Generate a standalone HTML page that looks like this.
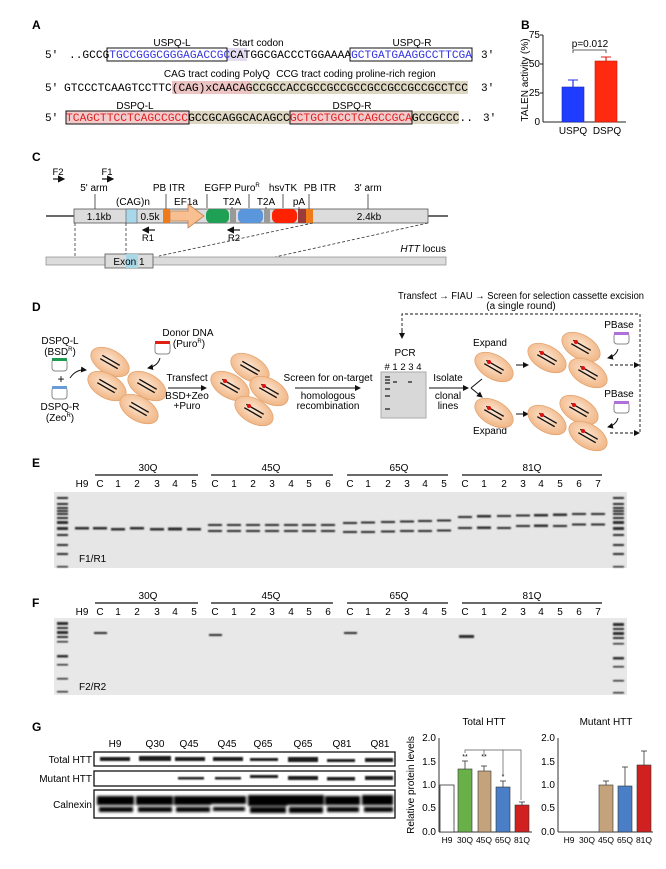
<!DOCTYPE html>
<html><head><meta charset="utf-8"><style>
html,body{margin:0;padding:0;background:#fff;}
svg{display:block}
text{font-family:"Liberation Sans",Arial,sans-serif;}
.seq{font-family:"Liberation Mono",monospace;font-size:11px;}
.b{font-weight:bold;font-size:12px}
.s{font-size:10px}
.l{font-size:9.5px}
</style></head><body>
<svg width="666" height="869" viewBox="0 0 666 869" xmlns="http://www.w3.org/2000/svg">
<defs>
<radialGradient id="cg" cx="45%" cy="45%" r="60%"><stop offset="0" stop-color="#fde6d2"/><stop offset="1" stop-color="#f0b381"/></radialGradient>
<g id="cell"><ellipse rx="21" ry="12" transform="rotate(30)" fill="url(#cg)" stroke="#e2a470" stroke-width=".8"/><line x1="-7.7" y1="-6.7" x2="9.7" y2="3.3" stroke="#111" stroke-width="1.4"/><line x1="-9.7" y1="-3.3" x2="7.7" y2="6.7" stroke="#111" stroke-width="1.4"/></g>
<g id="cellr"><use href="#cell"/><circle cx="-5" cy="-5" r="2" fill="#e01010"/></g>
<marker id="ah" markerWidth="6" markerHeight="6" refX="5" refY="3" orient="auto"><path d="M0,0 L6,3 L0,6z" fill="#111"/></marker>
<filter id="bl"><feGaussianBlur stdDeviation="0.7"/></filter>
<filter id="bl2"><feGaussianBlur stdDeviation="1.2"/></filter>
</defs>

<!-- ============ A ============ -->
<text x="32" y="29" class="b">A</text>
<text x="172" y="46" class="s" text-anchor="middle">USPQ-L</text>
<text x="258" y="46" class="s" text-anchor="middle">Start codon</text>
<text x="412" y="46" class="s" text-anchor="middle">USPQ-R</text>
<rect x="227" y="48" width="20" height="13" fill="#e4dcf0"/>
<rect x="107" y="48" width="120" height="13" fill="none" stroke="#111" stroke-width="1"/>
<rect x="350" y="48" width="122" height="13" fill="none" stroke="#111" stroke-width="1"/>
<text x="45" y="58" class="seq">5'</text>
<text x="69" y="58" class="seq" textLength="403" lengthAdjust="spacingAndGlyphs">..GCCG<tspan fill="#3535e0">TGCCGGGCGGGAGACCGC</tspan>CATGGCGACCCTGGAAAA<tspan fill="#3535e0">GCTGATGAAGGCCTTCGA</tspan></text>
<text x="481" y="58" class="seq">3'</text>

<text x="217" y="77" class="s" text-anchor="middle">CAG tract coding PolyQ</text>
<text x="356" y="77" class="s" text-anchor="middle">CCG tract coding proline-rich region</text>
<rect x="172" y="81" width="80" height="13" fill="#ecc4c4"/>
<rect x="252" y="81" width="216" height="13" fill="#ddd6c2"/>
<text x="45" y="91" class="seq">5'</text>
<text x="64" y="91" class="seq" textLength="404" lengthAdjust="spacingAndGlyphs">GTCCCTCAAGTCCTTC(CAG)xCAACAGCCGCCACCGCCGCCGCCGCCGCCGCCGCCTCC</text>
<text x="481" y="91" class="seq">3'</text>

<text x="135" y="109" class="s" text-anchor="middle">DSPQ-L</text>
<text x="352" y="109" class="s" text-anchor="middle">DSPQ-R</text>
<rect x="189" y="111" width="270" height="13" fill="#ddd6c2"/>
<rect x="66" y="111" width="123" height="13" fill="#f2cccc" stroke="#111" stroke-width="1"/>
<rect x="290" y="111" width="122" height="13" fill="#f2cccc" stroke="#111" stroke-width="1"/>
<text x="45" y="121" class="seq">5'</text>
<text x="66" y="121" class="seq" textLength="407" lengthAdjust="spacingAndGlyphs"><tspan fill="#e02020">TCAGCTTCCTCAGCCGCC</tspan>GCCGCAGGCACAGCC<tspan fill="#e02020">GCTGCTGCCTCAGCCGCA</tspan>GCCGCCC..</text>
<text x="483" y="121" class="seq">3'</text>

<!-- ============ B ============ -->
<text x="521" y="29" class="b">B</text>
<text transform="translate(528,80) rotate(-90)" class="s" text-anchor="middle">TALEN activity (%)</text>
<line x1="543" y1="35" x2="543" y2="122" stroke="#222"/>
<line x1="543" y1="122" x2="626" y2="122" stroke="#222"/>
<g class="s" text-anchor="end">
<text x="540" y="38">75</text><text x="540" y="67">50</text><text x="540" y="96">25</text><text x="540" y="125">0</text></g>
<g stroke="#222"><line x1="540" y1="35" x2="543" y2="35"/><line x1="540" y1="64" x2="543" y2="64"/><line x1="540" y1="93" x2="543" y2="93"/></g>
<line x1="573" y1="80" x2="573" y2="87" stroke="#2030f0" stroke-width="1.2"/><line x1="568" y1="80" x2="578" y2="80" stroke="#2030f0"/>
<rect x="562" y="87" width="22" height="35" fill="#1f3cff" stroke="#1a2ab0" stroke-width=".6"/>
<line x1="606" y1="57" x2="606" y2="61" stroke="#e02010" stroke-width="1.2"/><line x1="601" y1="57" x2="611" y2="57" stroke="#e02010"/>
<rect x="595" y="61" width="22" height="61" fill="#ff2a10" stroke="#c01a00" stroke-width=".6"/>
<text x="590" y="47" class="s" text-anchor="middle">p=0.012</text>
<path d="M573,53 V50 H606 V53" fill="none" stroke="#333" stroke-width=".8"/>
<text x="573" y="134" class="s" text-anchor="middle">USPQ</text>
<text x="607" y="134" class="s" text-anchor="middle">DSPQ</text>

<!-- ============ C ============ -->
<text x="32" y="161" class="b">C</text>
<text x="58" y="175" class="l" text-anchor="middle">F2</text>
<line x1="53" y1="179" x2="64" y2="179" stroke="#111" stroke-width="1.2" marker-end="url(#ah)"/>
<text x="107" y="175" class="l" text-anchor="middle">F1</text>
<line x1="102" y1="179" x2="113" y2="179" stroke="#111" stroke-width="1.2" marker-end="url(#ah)"/>
<g class="s" text-anchor="middle">
<text x="94" y="191">5' arm</text><text x="169" y="191">PB ITR</text><text x="218" y="191">EGFP</text>
<text x="247" y="191">Puro<tspan font-size="6" dy="-4">R</tspan></text>
<text x="283" y="191">hsvTK</text><text x="320" y="191">PB ITR</text><text x="368" y="191">3' arm</text>
<text x="133" y="205">(CAG)n</text><text x="186" y="205">EF1a</text><text x="232" y="205">T2A</text><text x="266" y="205">T2A</text><text x="299" y="205">pA</text>
</g>
<g stroke="#333" stroke-width=".8">
<line x1="95" y1="194" x2="95" y2="210"/><line x1="166" y1="194" x2="166" y2="210"/><line x1="207" y1="194" x2="207" y2="208"/>
<line x1="249" y1="194" x2="249" y2="208"/><line x1="283" y1="194" x2="283" y2="208"/><line x1="309" y1="194" x2="309" y2="210"/><line x1="368" y1="194" x2="368" y2="210"/>
<line x1="232" y1="207" x2="232" y2="210"/><line x1="266" y1="207" x2="266" y2="210"/><line x1="299" y1="207" x2="299" y2="210"/></g>
<line x1="46" y1="216" x2="448" y2="216" stroke="#111" stroke-width="1.2"/>
<rect x="74" y="209" width="354" height="14" fill="#dcdcdc" stroke="#555" stroke-width=".8"/>
<rect x="126" y="209" width="11" height="14" fill="#a8d8e8" stroke="#555" stroke-width=".6"/>
<rect x="163" y="209" width="7" height="14" fill="#f07a18"/>
<polygon points="170,211 188,211 188,204 204,216 188,228 188,221 170,221" fill="#f8c090" stroke="#c08050" stroke-width=".8"/>
<rect x="206" y="209" width="23" height="14" rx="5" fill="#1fa055"/>
<rect x="230" y="209" width="6" height="14" fill="#999"/>
<rect x="238" y="209" width="25" height="14" rx="5" fill="#5a96dc"/>
<rect x="264" y="209" width="6" height="14" fill="#999"/>
<rect x="272" y="209" width="25" height="14" rx="5" fill="#ff2200"/>
<rect x="298" y="209" width="8" height="14" fill="#9a3c3c"/>
<rect x="306" y="209" width="7" height="14" fill="#f07a18"/>
<g class="s" text-anchor="middle"><text x="99" y="220">1.1kb</text><text x="150" y="220">0.5k</text><text x="369" y="220">2.4kb</text></g>
<line x1="155" y1="230" x2="143" y2="230" stroke="#111" stroke-width="1.2" marker-end="url(#ah)"/>
<text x="148" y="241" class="l" text-anchor="middle">R1</text>
<line x1="240" y1="230" x2="228" y2="230" stroke="#111" stroke-width="1.2" marker-end="url(#ah)"/>
<text x="234" y="241" class="l" text-anchor="middle">R2</text>
<g stroke="#333" stroke-width=".8" stroke-dasharray="3,2" fill="none">
<line x1="75" y1="223" x2="75" y2="257"/><line x1="126" y1="223" x2="126" y2="256"/>
<line x1="313" y1="223" x2="159" y2="256"/><line x1="428" y1="223" x2="275" y2="257"/></g>
<rect x="46" y="257" width="400" height="8" fill="#dcdcdc" stroke="#888" stroke-width=".7"/>
<rect x="105" y="254" width="48" height="14" fill="#dcdcdc" stroke="#555" stroke-width=".8"/>
<rect x="126" y="254" width="12" height="14" fill="#a8d8e8"/>
<text x="129" y="265" class="s" text-anchor="middle">Exon 1</text>
<text x="446" y="252" class="s" text-anchor="end"><tspan font-style="italic">HTT</tspan> locus</text>

<!-- ============ D ============ -->
<text x="32" y="311" class="b">D</text>
<text x="398" y="299" class="s" textLength="246" lengthAdjust="spacingAndGlyphs">Transfect → FIAU → Screen for selection cassette excision</text>
<text x="521" y="309" class="s" text-anchor="middle">(a single round)</text>
<path d="M402,336 V314 H640 V433" fill="none" stroke="#111" stroke-width=".9" stroke-dasharray="3,2"/>
<line x1="402" y1="330" x2="402" y2="338" stroke="#111" marker-end="url(#ah)"/>
<line x1="610" y1="365" x2="639" y2="365" stroke="#111" stroke-dasharray="3,2" marker-end="url(#ah)"/>
<line x1="610" y1="433" x2="639" y2="433" stroke="#111" stroke-dasharray="3,2" marker-end="url(#ah)"/>

<text x="60" y="344" class="s" text-anchor="middle">DSPQ-L</text>
<text x="60" y="355" class="s" text-anchor="middle">(BSD<tspan font-size="6" dy="-4">R</tspan><tspan dy="4">)</tspan></text>
<rect x="52" y="359" width="15" height="12" rx="3" fill="#fff" stroke="#888"/><rect x="52" y="358" width="15" height="3" fill="#1f9a50"/>
<text x="61" y="383" font-size="12" text-anchor="middle">+</text>
<rect x="52" y="387" width="15" height="12" rx="3" fill="#fff" stroke="#888"/><rect x="52" y="386" width="15" height="3" fill="#6a9ad8"/>
<text x="60" y="410" class="s" text-anchor="middle">DSPQ-R</text>
<text x="60" y="421" class="s" text-anchor="middle">(Zeo<tspan font-size="6" dy="-4">R</tspan><tspan dy="4">)</tspan></text>
<path d="M70,378 Q76,369 86,370" fill="none" stroke="#111" marker-end="url(#ah)"/>
<text x="188" y="336" class="s" text-anchor="middle">Donor DNA</text>
<text x="189" y="347" class="s" text-anchor="middle">(Puro<tspan font-size="6" dy="-4">R</tspan><tspan dy="4">)</tspan></text>
<rect x="155" y="342" width="15" height="12" rx="3" fill="#fff" stroke="#888"/><rect x="155" y="341" width="15" height="3" fill="#e02010"/>
<path d="M160,358 Q158,366 148,368" fill="none" stroke="#111" marker-end="url(#ah)"/>
<use href="#cell" x="110" y="362"/><use href="#cell" x="107" y="386"/><use href="#cell" x="147" y="386"/><use href="#cell" x="139" y="409"/>
<text x="187" y="381" class="s" text-anchor="middle">Transfect</text>
<line x1="168" y1="388" x2="206" y2="388" stroke="#111" marker-end="url(#ah)"/>
<text x="187" y="399" class="s" text-anchor="middle">BSD+Zeo</text>
<text x="187" y="409" class="s" text-anchor="middle">+Puro</text>
<use href="#cell" x="250" y="368"/><use href="#cellr" x="230" y="386"/><use href="#cellr" x="269" y="391"/><use href="#cellr" x="254" y="411"/>
<text x="328" y="381" class="s" text-anchor="middle">Screen for on-target</text>
<line x1="295" y1="388" x2="360" y2="388" stroke="#111" marker-end="url(#ah)"/>
<text x="328" y="399" class="s" text-anchor="middle">homologous</text>
<text x="328" y="409" class="s" text-anchor="middle">recombination</text>
<text x="405" y="356" class="s" text-anchor="middle">PCR</text>
<text x="403" y="370" class="l" text-anchor="middle"># 1 2 3 4</text>
<rect x="381" y="372" width="45" height="46" fill="#d8d8d8" stroke="#aaa"/>
<g stroke="#222" stroke-width="1.3"><line x1="385" y1="377" x2="390" y2="377"/><line x1="385" y1="380" x2="390" y2="380"/><line x1="385" y1="383" x2="390" y2="383"/><line x1="393" y1="382" x2="397" y2="382"/><line x1="408" y1="382" x2="412" y2="382"/><line x1="385" y1="389" x2="390" y2="389"/><line x1="385" y1="396" x2="390" y2="396"/><line x1="385" y1="409" x2="390" y2="409"/></g>
<text x="448" y="381" class="s" text-anchor="middle">Isolate</text>
<line x1="429" y1="388" x2="468" y2="388" stroke="#111" marker-end="url(#ah)"/>
<text x="448" y="399" class="s" text-anchor="middle">clonal</text>
<text x="448" y="409" class="s" text-anchor="middle">lines</text>
<path d="M471,388 L482,379 M471,388 L482,397" fill="none" stroke="#111" marker-end="url(#ah)"/>
<text x="490" y="346" class="s" text-anchor="middle">Expand</text>
<text x="490" y="434" class="s" text-anchor="middle">Expand</text>
<use href="#cellr" x="494" y="367"/><use href="#cellr" x="494" y="413"/>
<line x1="516" y1="365" x2="528" y2="365" stroke="#111" marker-end="url(#ah)"/>
<line x1="516" y1="414" x2="528" y2="414" stroke="#111" marker-end="url(#ah)"/>
<use href="#cellr" x="547" y="358"/><use href="#cellr" x="581" y="347"/><use href="#cellr" x="588" y="373"/>
<use href="#cellr" x="547" y="420"/><use href="#cellr" x="579" y="410"/><use href="#cellr" x="588" y="436"/>
<text x="619" y="328" class="s" text-anchor="middle">PBase</text>
<rect x="614" y="333" width="15" height="11" rx="3" fill="#fff" stroke="#888"/><rect x="614" y="332" width="15" height="3" fill="#b070d8"/>
<path d="M618,349 Q616,356 608,358" fill="none" stroke="#111" marker-end="url(#ah)"/>
<text x="619" y="397" class="s" text-anchor="middle">PBase</text>
<rect x="614" y="402" width="15" height="11" rx="3" fill="#fff" stroke="#888"/><rect x="614" y="401" width="15" height="3" fill="#b070d8"/>
<path d="M618,418 Q616,425 608,427" fill="none" stroke="#111" marker-end="url(#ah)"/>

<!-- ============ E ============ -->
<text x="32" y="467" class="b">E</text>
<g class="s" text-anchor="middle"><text x="148" y="471">30Q</text><text x="271" y="471">45Q</text><text x="399" y="471">65Q</text><text x="532" y="471">81Q</text></g>
<g stroke="#111" stroke-width="1.2"><line x1="95" y1="475" x2="198" y2="475"/><line x1="211" y1="475" x2="333" y2="475"/><line x1="347" y1="475" x2="448" y2="475"/><line x1="462" y1="475" x2="602" y2="475"/></g>
<g class="s" text-anchor="middle">
<text x="82" y="487">H9</text><text x="100" y="487">C</text><text x="118" y="487">1</text><text x="137" y="487">2</text><text x="157" y="487">3</text><text x="175" y="487">4</text><text x="194" y="487">5</text>
<text x="215" y="487">C</text><text x="234" y="487">1</text><text x="253" y="487">2</text><text x="272" y="487">3</text><text x="291" y="487">4</text><text x="309" y="487">5</text><text x="328" y="487">6</text>
<text x="350" y="487">C</text><text x="368" y="487">1</text><text x="388" y="487">2</text><text x="407" y="487">3</text><text x="425" y="487">4</text><text x="444" y="487">5</text>
<text x="465" y="487">C</text><text x="484" y="487">1</text><text x="504" y="487">2</text><text x="523" y="487">3</text><text x="541" y="487">4</text><text x="560" y="487">5</text><text x="579" y="487">6</text><text x="598" y="487">7</text></g>
<rect x="54" y="492" width="573" height="76" fill="#e6e6e6"/>
<g fill="#2a2a2a" filter="url(#bl)">
<rect x="57" y="497" width="11" height="2"/><rect x="57" y="503" width="11" height="2"/><rect x="57" y="507" width="11" height="2"/><rect x="57" y="510" width="11" height="2"/><rect x="57" y="513" width="11" height="2"/><rect x="57" y="517" width="11" height="2"/><rect x="57" y="521" width="11" height="3"/><rect x="57" y="527" width="11" height="3"/><rect x="57" y="534" width="11" height="2"/><rect x="57" y="544" width="11" height="2"/><rect x="57" y="553" width="11" height="2"/><rect x="57" y="566" width="11" height="1.5"/>
<rect x="613" y="497" width="11" height="2"/><rect x="613" y="503" width="11" height="2"/><rect x="613" y="507" width="11" height="2"/><rect x="613" y="510" width="11" height="2"/><rect x="613" y="513" width="11" height="2"/><rect x="613" y="517" width="11" height="2"/><rect x="613" y="521" width="11" height="3"/><rect x="613" y="527" width="11" height="3"/><rect x="613" y="534" width="11" height="2"/><rect x="613" y="544" width="11" height="2"/><rect x="613" y="553" width="11" height="2"/><rect x="613" y="566" width="11" height="1.5"/>
<rect x="75" y="527" width="14" height="2.5"/><rect x="93" y="527" width="14" height="2.5"/><rect x="111" y="528" width="14" height="2.5"/><rect x="130" y="527" width="14" height="2.5"/><rect x="150" y="528" width="14" height="2.5"/><rect x="168" y="527.5" width="14" height="3"/><rect x="187" y="528" width="14" height="2.5"/>
<rect x="208" y="524" width="14" height="2"/><rect x="227" y="524" width="14" height="2"/><rect x="246" y="524" width="14" height="2"/><rect x="265" y="524" width="14" height="2"/><rect x="284" y="524" width="14" height="2"/><rect x="302" y="524" width="14" height="2"/><rect x="321" y="524" width="14" height="2"/>
<rect x="208" y="530" width="14" height="2"/><rect x="227" y="530" width="14" height="2"/><rect x="246" y="530" width="14" height="2"/><rect x="265" y="530" width="14" height="2"/><rect x="284" y="530" width="14" height="2"/><rect x="302" y="530" width="14" height="2"/><rect x="321" y="530" width="14" height="2"/>
<rect x="343" y="522" width="14" height="2"/><rect x="361" y="521.5" width="14" height="2"/><rect x="381" y="521" width="14" height="2"/><rect x="400" y="520.5" width="14" height="2"/><rect x="418" y="520" width="14" height="2"/><rect x="437" y="519.5" width="14" height="2"/>
<rect x="343" y="531" width="14" height="2"/><rect x="361" y="531" width="14" height="2"/><rect x="381" y="530.5" width="14" height="2"/><rect x="400" y="530" width="14" height="2"/><rect x="418" y="530" width="14" height="2"/><rect x="437" y="529.5" width="14" height="2"/>
<rect x="458" y="516" width="14" height="2"/><rect x="477" y="515" width="14" height="2.5"/><rect x="497" y="515" width="14" height="2"/><rect x="516" y="514.5" width="14" height="2"/><rect x="534" y="514" width="14" height="2.5"/><rect x="553" y="513.5" width="14" height="2.5"/><rect x="572" y="513" width="14" height="2"/><rect x="591" y="513" width="14" height="2"/>
<rect x="458" y="527" width="14" height="2"/><rect x="477" y="526.5" width="14" height="2.5"/><rect x="497" y="527" width="14" height="2"/><rect x="516" y="525" width="14" height="2"/><rect x="534" y="524.5" width="14" height="2.5"/><rect x="553" y="525" width="14" height="2"/><rect x="572" y="523.5" width="14" height="2"/><rect x="591" y="523.5" width="14" height="2"/>
</g>
<text x="79" y="562" class="s">F1/R1</text>

<!-- ============ F ============ -->
<text x="32" y="607" class="b">F</text>
<g class="s" text-anchor="middle"><text x="148" y="599">30Q</text><text x="271" y="599">45Q</text><text x="399" y="599">65Q</text><text x="532" y="599">81Q</text></g>
<g stroke="#111" stroke-width="1.2"><line x1="95" y1="603" x2="198" y2="603"/><line x1="211" y1="603" x2="333" y2="603"/><line x1="347" y1="603" x2="448" y2="603"/><line x1="462" y1="603" x2="602" y2="603"/></g>
<g class="s" text-anchor="middle">
<text x="82" y="615">H9</text><text x="100" y="615">C</text><text x="118" y="615">1</text><text x="137" y="615">2</text><text x="157" y="615">3</text><text x="175" y="615">4</text><text x="194" y="615">5</text>
<text x="215" y="615">C</text><text x="234" y="615">1</text><text x="253" y="615">2</text><text x="272" y="615">3</text><text x="291" y="615">4</text><text x="309" y="615">5</text><text x="328" y="615">6</text>
<text x="350" y="615">C</text><text x="368" y="615">1</text><text x="388" y="615">2</text><text x="407" y="615">3</text><text x="425" y="615">4</text><text x="444" y="615">5</text>
<text x="465" y="615">C</text><text x="484" y="615">1</text><text x="504" y="615">2</text><text x="523" y="615">3</text><text x="541" y="615">4</text><text x="560" y="615">5</text><text x="579" y="615">6</text><text x="598" y="615">7</text></g>
<rect x="54" y="618" width="573" height="77" fill="#e8e8e8"/>
<g fill="#2a2a2a" filter="url(#bl)">
<rect x="57" y="622" width="11" height="3"/><rect x="57" y="627" width="11" height="2"/><rect x="57" y="631" width="11" height="3"/><rect x="57" y="636" width="11" height="2"/><rect x="57" y="641" width="11" height="1.5"/><rect x="57" y="655" width="11" height="2.5"/><rect x="57" y="664" width="11" height="1.5"/><rect x="57" y="678" width="11" height="1.5"/><rect x="57" y="691" width="11" height="1.5"/>
<rect x="613" y="623" width="11" height="3"/><rect x="613" y="628" width="11" height="2"/><rect x="613" y="632" width="11" height="3"/><rect x="613" y="637" width="11" height="2"/><rect x="613" y="643" width="11" height="1.5"/><rect x="613" y="657" width="11" height="2.5"/><rect x="613" y="666" width="11" height="1.5"/><rect x="613" y="680" width="11" height="1.5"/><rect x="613" y="692" width="11" height="1.5"/>
<rect x="94" y="632" width="13" height="2"/><rect x="209" y="634" width="13" height="2"/><rect x="344" y="632" width="13" height="2"/><rect x="459" y="635" width="15" height="3"/>
</g>
<text x="79" y="690" class="s">F2/R2</text>

<!-- ============ G ============ -->
<text x="32" y="731" class="b">G</text>
<g class="s" text-anchor="middle"><text x="115" y="747">H9</text><text x="155" y="747">Q30</text><text x="189" y="747">Q45</text><text x="227" y="747">Q45</text><text x="263" y="747">Q65</text><text x="303" y="747">Q65</text><text x="342" y="747">Q81</text><text x="380" y="747">Q81</text></g>
<g class="s" text-anchor="end"><text x="92" y="763">Total HTT</text><text x="92" y="782">Mutant HTT</text><text x="92" y="808">Calnexin</text></g>
<rect x="94" y="752" width="301" height="14" fill="#fff" stroke="#111" stroke-width="1.3"/>
<rect x="94" y="771" width="301" height="15" fill="#fff" stroke="#111" stroke-width="1.3"/>
<rect x="94" y="790" width="301" height="28" fill="#fff" stroke="#111" stroke-width="1.3"/>
<g fill="#1a1a1a" filter="url(#bl)">
<rect x="100" y="757" width="30" height="4"/><rect x="139" y="756" width="32" height="5"/><rect x="175" y="757" width="30" height="4"/><rect x="213" y="757" width="30" height="4"/><rect x="250" y="758" width="28" height="3"/><rect x="288" y="757" width="30" height="5"/><rect x="327" y="759" width="28" height="3"/><rect x="365" y="758" width="28" height="4"/>
<rect x="178" y="777" width="26" height="2.5"/><rect x="215" y="777" width="26" height="2.5"/><rect x="250" y="775" width="28" height="3"/><rect x="288" y="776" width="30" height="4"/><rect x="327" y="777" width="28" height="3.5"/><rect x="365" y="776" width="28" height="4"/>
</g>
<g fill="#000" filter="url(#bl2)">
<rect x="97" y="796" width="37" height="9"/><rect x="136" y="796" width="37" height="9"/><rect x="174" y="796" width="37" height="9"/><rect x="211" y="796" width="35" height="8"/><rect x="248" y="795" width="39" height="11"/><rect x="287" y="795" width="37" height="10"/><rect x="325" y="796" width="35" height="9"/><rect x="362" y="795" width="31" height="10"/>
<rect x="99" y="807" width="34" height="5"/><rect x="138" y="807" width="34" height="5"/><rect x="176" y="807" width="34" height="5"/><rect x="213" y="807" width="32" height="4"/><rect x="250" y="807" width="36" height="6"/><rect x="289" y="807" width="34" height="6"/><rect x="327" y="807" width="32" height="5"/><rect x="364" y="807" width="29" height="5"/>
</g>

<!-- chart Total -->
<text x="484" y="725" class="s" text-anchor="middle">Total HTT</text>
<text transform="translate(414,785) rotate(-90)" class="s" text-anchor="middle">Relative protein levels</text>
<line x1="439" y1="738" x2="439" y2="832" stroke="#333"/><line x1="439" y1="832" x2="532" y2="832" stroke="#333"/>
<g class="s" text-anchor="end"><text x="436" y="741">2.0</text><text x="436" y="765">1.5</text><text x="436" y="788">1.0</text><text x="436" y="811">0.5</text><text x="436" y="835">0.0</text></g>
<rect x="440" y="785" width="14" height="47" fill="#fff" stroke="#333" stroke-width=".8"/>
<rect x="458" y="769" width="14" height="63" fill="#6ab048" stroke="#333" stroke-width=".6"/>
<rect x="478" y="771" width="13" height="61" fill="#c4a27c" stroke="#333" stroke-width=".6"/>
<rect x="496" y="787" width="14" height="45" fill="#4a7fc8" stroke="#333" stroke-width=".6"/>
<rect x="515" y="805" width="14" height="27" fill="#d02020" stroke="#333" stroke-width=".6"/>
<g stroke="#333" stroke-width=".8"><line x1="465" y1="761" x2="465" y2="769"/><line x1="462" y1="761" x2="468" y2="761"/><line x1="484" y1="766" x2="484" y2="771"/><line x1="481" y1="766" x2="487" y2="766"/><line x1="503" y1="781" x2="503" y2="787"/><line x1="500" y1="781" x2="506" y2="781"/><line x1="522" y1="802" x2="522" y2="805"/><line x1="519" y1="802" x2="525" y2="802"/></g>
<path d="M465,753 V750 H521 V800 M484,750 V755 M503,750 V775" fill="none" stroke="#555" stroke-width=".7"/>
<g font-size="7" text-anchor="middle"><text x="465" y="759">**</text><text x="484" y="759">**</text><text x="503" y="779">*</text></g>
<g font-size="8.5" text-anchor="middle"><text x="447" y="843">H9</text><text x="465" y="843">30Q</text><text x="484" y="843">45Q</text><text x="503" y="843">65Q</text><text x="522" y="843">81Q</text></g>

<!-- chart Mutant -->
<text x="606" y="725" class="s" text-anchor="middle">Mutant HTT</text>
<line x1="558" y1="738" x2="558" y2="832" stroke="#333"/><line x1="558" y1="832" x2="653" y2="832" stroke="#333"/>
<g class="s" text-anchor="end"><text x="555" y="741">2.0</text><text x="555" y="765">1.5</text><text x="555" y="788">1.0</text><text x="555" y="811">0.5</text><text x="555" y="835">0.0</text></g>
<rect x="599" y="785" width="14" height="47" fill="#c4a27c" stroke="#333" stroke-width=".6"/>
<rect x="618" y="786" width="14" height="46" fill="#4a7fc8" stroke="#333" stroke-width=".6"/>
<rect x="637" y="765" width="14" height="67" fill="#d02020" stroke="#333" stroke-width=".6"/>
<g stroke="#333" stroke-width=".8"><line x1="606" y1="781" x2="606" y2="785"/><line x1="603" y1="781" x2="609" y2="781"/><line x1="625" y1="767" x2="625" y2="786"/><line x1="622" y1="767" x2="628" y2="767"/><line x1="644" y1="751" x2="644" y2="765"/><line x1="641" y1="751" x2="647" y2="751"/></g>
<g font-size="8.5" text-anchor="middle"><text x="569" y="843">H9</text><text x="587" y="843">30Q</text><text x="606" y="843">45Q</text><text x="625" y="843">65Q</text><text x="644" y="843">81Q</text></g>
</svg>
</body></html>
